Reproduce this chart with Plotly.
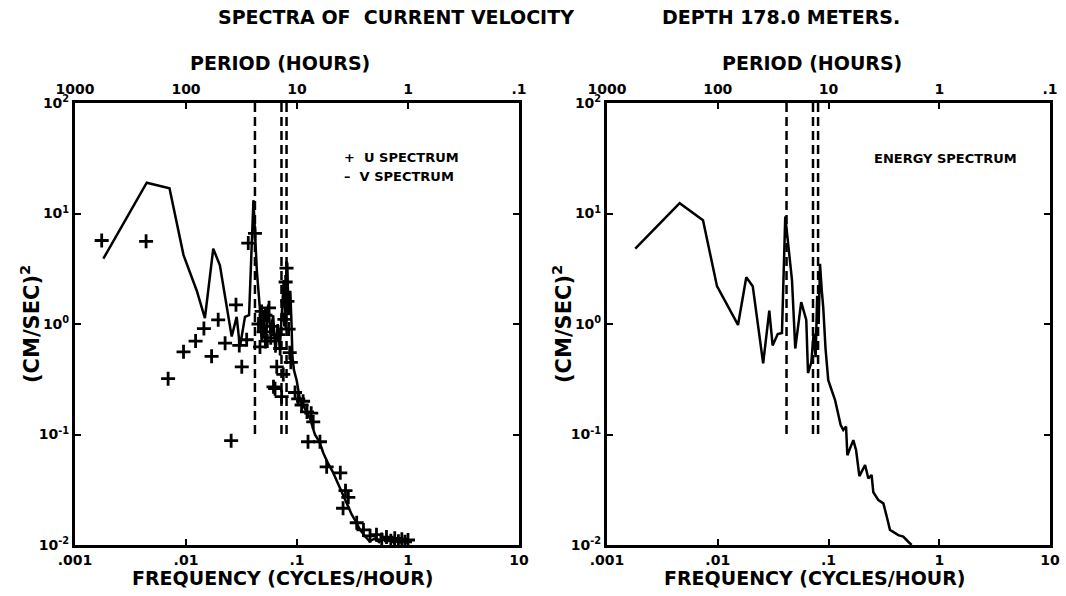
import plotly.graph_objects as go

# ---------------- data ----------------
# Left panel: V spectrum (solid line)
v_freq = [0.0018, 0.00443, 0.0071, 0.0095, 0.0125, 0.0148, 0.0176, 0.0202, 0.0258, 0.0286,
          0.0306, 0.034, 0.037, 0.0405, 0.0435, 0.0464, 0.048, 0.050, 0.052, 0.055, 0.058,
          0.061, 0.064, 0.067, 0.070, 0.073, 0.076, 0.079, 0.0817, 0.084, 0.087, 0.089,
          0.091, 0.094, 0.0993, 0.106, 0.118, 0.131, 0.145, 0.160, 0.1726, 0.19, 0.21,
          0.2275, 0.25, 0.28, 0.31, 0.333, 0.37, 0.41, 0.45, 0.50, 0.55, 0.60, 0.65, 0.70,
          0.75, 0.80, 0.85, 0.90, 0.95, 1.0]
v_spec = [3.9, 19.0, 16.9, 4.2, 2.0, 1.13, 4.8, 3.4, 0.77, 1.16,
          0.62, 1.16, 1.2, 13.2, 3.0, 1.34, 0.7, 1.3, 0.6, 1.5, 0.8,
          1.2, 0.55, 1.0, 0.6, 1.4, 2.5, 0.9, 3.6, 1.2, 2.0, 1.1,
          0.5, 0.38, 0.31, 0.21, 0.17, 0.14, 0.10, 0.085, 0.068, 0.055, 0.046,
          0.039, 0.031, 0.024, 0.019, 0.0168, 0.0137, 0.012, 0.0108, 0.0114, 0.0106, 0.0116, 0.0108, 0.0113,
          0.0104, 0.0111, 0.0106, 0.0112, 0.0105, 0.0108]

# Left panel: U spectrum (+ markers)
u_freq = [0.00174, 0.00437, 0.0069, 0.0095, 0.0122, 0.0145, 0.0170, 0.0195, 0.0225, 0.0255,
          0.0282, 0.0302, 0.0318, 0.0352, 0.0364, 0.0418, 0.045, 0.0464, 0.048, 0.050, 0.052,
          0.054, 0.056, 0.058, 0.060, 0.0614, 0.0634, 0.0657, 0.068, 0.0705, 0.0727, 0.0752,
          0.077, 0.079, 0.0805, 0.082, 0.084, 0.086, 0.088, 0.096, 0.1025, 0.11, 0.1135,
          0.123, 0.1257, 0.1343, 0.14, 0.161, 0.185, 0.2455, 0.26, 0.2735, 0.29, 0.345,
          0.397, 0.455, 0.52, 0.58, 0.64, 0.70, 0.76, 0.82, 0.88, 0.94, 1.0]
u_spec = [5.7, 5.6, 0.32, 0.56, 0.70, 0.91, 0.51, 1.09, 0.67, 0.088,
          1.49, 0.64, 0.41, 0.72, 5.4, 6.6, 1.0, 0.62, 1.3, 0.85, 1.2,
          0.7, 1.4, 0.75, 0.95, 0.27, 0.26, 0.41, 0.8, 0.6, 0.22, 0.35,
          1.1, 2.4, 3.2, 1.6, 0.9, 0.55, 0.45, 0.24, 0.21, 0.185, 0.20,
          0.16, 0.086, 0.156, 0.13, 0.086, 0.051, 0.045, 0.0215, 0.031, 0.027, 0.0159,
          0.0137, 0.0121, 0.0124, 0.0112, 0.0118, 0.0109, 0.0115, 0.0108, 0.0113, 0.0107, 0.0111]

# Right panel: energy spectrum (solid line)
e_freq = [0.0018, 0.00453, 0.00736, 0.00984, 0.01524, 0.0181, 0.0207, 0.0257, 0.0292, 0.0313,
          0.0348, 0.038, 0.0407, 0.0468, 0.0501, 0.0567, 0.063, 0.0653, 0.070, 0.0734,
          0.0765, 0.079, 0.0815, 0.0838, 0.087, 0.0897, 0.094, 0.0995, 0.1146, 0.1288,
          0.136, 0.144, 0.148, 0.1675, 0.1775, 0.19, 0.214, 0.229, 0.245, 0.254, 0.282,
          0.313, 0.336, 0.359, 0.427, 0.473, 0.525, 0.563]
e_spec = [4.8, 12.4, 8.7, 2.2, 0.98, 2.65, 2.2, 0.44, 1.32, 0.64,
          0.81, 0.83, 9.4, 2.5, 0.6, 1.58, 1.09, 0.36, 0.45, 0.82,
          0.5, 1.8, 1.0, 3.5, 2.0, 1.4, 0.6, 0.31, 0.205, 0.122,
          0.11, 0.118, 0.065, 0.089, 0.072, 0.042, 0.053, 0.040, 0.043, 0.030, 0.0255,
          0.0238, 0.018, 0.0137, 0.0123, 0.0119, 0.0107, 0.0100]

# Reference periods (hours) marked by dashed lines: K1, inertial, M2
ref_periods = [23.93, 13.8, 12.42]
ref_span = [100, 0.1]

freq_ticks = [0.001, 0.01, 0.1, 1, 10]
freq_labels = ['.001', '.01', '.1', '1', '10']
period_labels = ['1000', '100', '10', '1', '.1']
spec_ticks = [0.01, 0.1, 1, 10, 100]
spec_labels = ['10<sup>-2</sup>', '10<sup>-1</sup>', '10<sup>0</sup>', '10<sup>1</sup>', '10<sup>2</sup>']

FONT = "DejaVu Sans, sans-serif"
W, H = 1066, 596

fig = go.Figure()

line_style = dict(color='black', width=2.5)
dash_style = dict(color='black', width=2.5, dash='9px,5px')

# left panel
fig.add_trace(go.Scatter(x=v_freq, y=v_spec, mode='lines', line=line_style,
                         xaxis='x', yaxis='y', showlegend=False))
fig.add_trace(go.Scatter(x=u_freq, y=u_spec, mode='markers',
                         marker=dict(symbol='cross-thin', size=10,
                                     line=dict(color='black', width=2.8)),
                         xaxis='x', yaxis='y', showlegend=False))
for p in ref_periods:
    fig.add_trace(go.Scatter(x=[1 / p, 1 / p], y=ref_span, mode='lines', line=dash_style,
                             xaxis='x', yaxis='y', showlegend=False))
# right panel
fig.add_trace(go.Scatter(x=e_freq, y=e_spec, mode='lines', line=line_style,
                         xaxis='x2', yaxis='y2', showlegend=False))
for p in ref_periods:
    fig.add_trace(go.Scatter(x=[1 / p, 1 / p], y=ref_span, mode='lines', line=dash_style,
                             xaxis='x2', yaxis='y2', showlegend=False))
# invisible traces to keep the top (period) axes alive
fig.add_trace(go.Scatter(x=[0.01], y=[1], mode='markers', marker=dict(opacity=0),
                         xaxis='x3', yaxis='y', showlegend=False, hoverinfo='skip'))
fig.add_trace(go.Scatter(x=[0.01], y=[1], mode='markers', marker=dict(opacity=0),
                         xaxis='x4', yaxis='y2', showlegend=False, hoverinfo='skip'))


def fx(x):
    return x / W


def fy(y):
    return 1 - y / H


xdomL = [fx(75), fx(519)]
xdomR = [fx(607), fx(1050)]
ydom = [fy(545), fy(103)]

tickfont = dict(family=FONT, size=14, color='black', weight='bold')
common_x = dict(type='log', range=[-3, 1], tickvals=freq_ticks, showline=True,
                linecolor='black', linewidth=3, ticks='inside', ticklen=6, tickwidth=2,
                tickcolor='black', showgrid=False, zeroline=False, tickfont=tickfont,
                automargin=False)
common_y = dict(type='log', range=[-2, 2], tickvals=spec_ticks, ticktext=spec_labels,
                showline=True, linecolor='black', linewidth=3, ticks='inside', ticklen=6,
                tickwidth=2, tickcolor='black', mirror='ticks', showgrid=False,
                zeroline=False, tickfont=tickfont, automargin=False)

fig.update_layout(
    width=W, height=H,
    margin=dict(l=0, r=0, t=0, b=0),
    paper_bgcolor='white', plot_bgcolor='white',
    hovermode=False,
    xaxis=dict(domain=xdomL, anchor='y', ticktext=freq_labels, **common_x),
    yaxis=dict(domain=ydom, anchor='x', **common_y),
    xaxis2=dict(domain=xdomR, anchor='y2', ticktext=freq_labels, **common_x),
    yaxis2=dict(domain=ydom, anchor='x2', **common_y),
    xaxis3=dict(overlaying='x', anchor='y', side='top', ticktext=period_labels, **common_x),
    xaxis4=dict(overlaying='x2', anchor='y2', side='top', ticktext=period_labels, **common_x),
)


def note(text, x, y, size, xanchor='center', angle=0):
    fig.add_annotation(text=text, x=fx(x), y=fy(y), xref='paper', yref='paper', showarrow=False,
                       xanchor=xanchor, yanchor='middle', textangle=angle,
                       font=dict(family=FONT, size=size, color='black', weight='bold'))


note('SPECTRA OF  CURRENT VELOCITY', 396, 17, 19)
note('DEPTH 178.0 METERS.', 781, 17, 19)
note('PERIOD (HOURS)', 280, 63, 19)
note('PERIOD (HOURS)', 812, 63, 19)
note('FREQUENCY (CYCLES/HOUR)', 283, 578, 19)
note('FREQUENCY (CYCLES/HOUR)', 815, 578, 19)
note('(CM/SEC)<sup>2</sup>', 30, 324, 21, angle=-90)
note('(CM/SEC)<sup>2</sup>', 562, 324, 21, angle=-90)
note('+  U SPECTRUM', 342, 157, 13, xanchor='left')
note('\u2013  V SPECTRUM', 342, 176, 13, xanchor='left')
note('ENERGY SPECTRUM', 872, 158, 13, xanchor='left')

# remove the default page margin so the figure fills the window exactly
fig.write_html("out.html", config={'displayModeBar': False, 'staticPlot': True},
               post_script="document.body.style.margin='0';document.body.style.overflow='hidden';")
